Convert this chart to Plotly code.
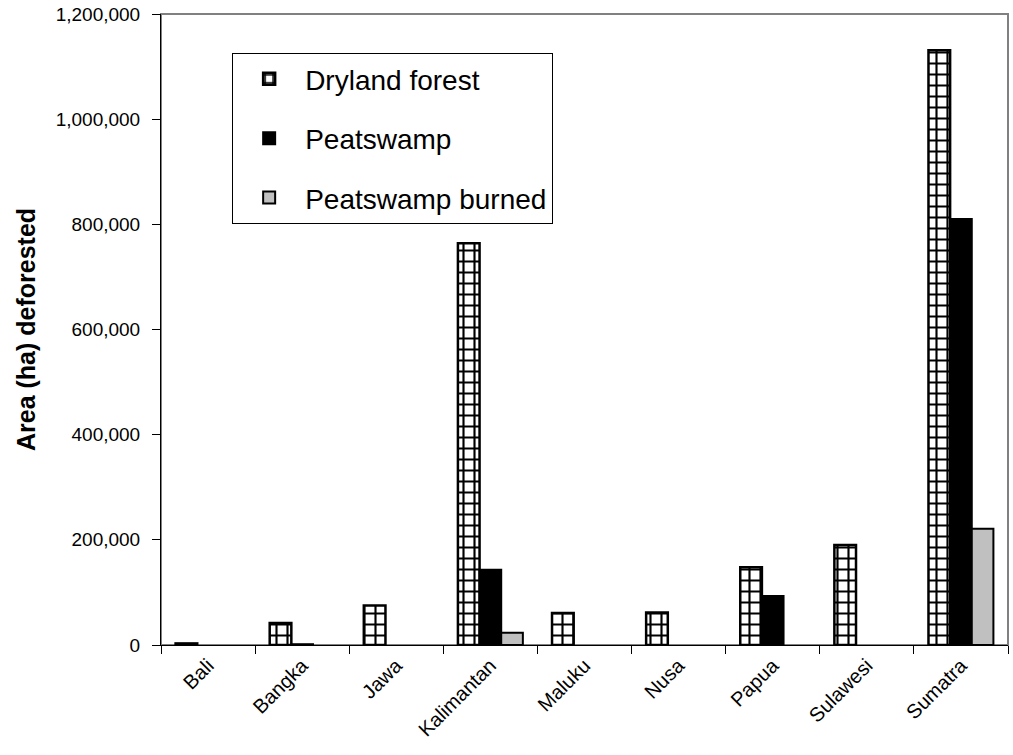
import plotly.graph_objects as go

categories = ["Bali", "Bangka", "Jawa", "Kalimantan", "Maluku", "Nusa", "Papua", "Sulawesi", "Sumatra"]
dryland = [3000, 42000, 75000, 764000, 61000, 62000, 148000, 190000, 1131000]
peatswamp = [None, 1500, None, 143000, None, None, 93000, None, 810000]
peat_burned = [None, None, None, 23500, None, None, None, None, 221000]

FONT = "Liberation Sans, Arial, sans-serif"

fig = go.Figure()
fig.add_trace(go.Bar(
    x=categories, y=dryland, name="Dryland forest", legendgroup="a",
    marker=dict(color="white", line=dict(color="black", width=2.5),
                pattern=dict(shape="+", fgcolor="black", bgcolor="white",
                             size=11, solidity=0.35, fillmode="replace")),
))
fig.add_trace(go.Bar(
    x=categories, y=peatswamp, name="Peatswamp", legendgroup="b",
    marker=dict(color="black", line=dict(color="black", width=2)),
))
fig.add_trace(go.Bar(
    x=categories, y=peat_burned, name="Peatswamp burned", legendgroup="c",
    marker=dict(color="#C0C0C0", line=dict(color="black", width=2)),
))

fig.update_layout(
    width=1013, height=755,
    margin=dict(l=161, r=5, t=14, b=110),
    paper_bgcolor="white", plot_bgcolor="white",
    barmode="group", bargap=0.31, bargroupgap=0,
    font=dict(family=FONT, color="black"),
    showlegend=True,
    legend=dict(
        x=0.084, y=0.938, xanchor="left", yanchor="top",
        bgcolor="white", bordercolor="black", borderwidth=1,
        font=dict(size=28, family=FONT, color="black"),
        traceorder="grouped", tracegroupgap=20,
        itemwidth=62, entrywidth=340, entrywidthmode="pixels",
    ),
    xaxis=dict(
        type="category", tickson="boundaries", ticks="outside", ticklen=8,
        tickcolor="black", showline=True, linecolor="black", linewidth=1,
        tickangle=-45, tickfont=dict(size=20, family=FONT),
        showgrid=False, zeroline=False,
    ),
    yaxis=dict(
        range=[0, 1200000], dtick=200000, tickformat=",",
        ticks="outside", ticklen=8, tickcolor="black",
        showline=True, linecolor="black", linewidth=1,
        showgrid=False, zeroline=False,
        tickfont=dict(size=19, family=FONT), ticklabelstandoff=8,
        title=dict(text="<b>Area (ha) deforested</b>", font=dict(size=25, family=FONT), standoff=12),
    ),
    shapes=[dict(type="rect", xref="paper", yref="paper", x0=0, y0=0, x1=1, y1=1,
                 line=dict(color="#808080", width=2), layer="below")],
)

fig.write_html("out.html")
